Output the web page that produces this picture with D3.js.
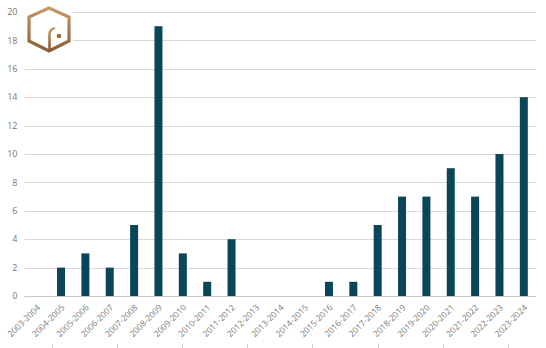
<!DOCTYPE html>
<html>
<head>
<meta charset="utf-8">
<script src="https://cdn.jsdelivr.net/npm/d3@7/dist/d3.min.js"></script>
<style>
  body { margin: 0; background: #fff; }
  text { font-family: "Open Sans", "Noto Sans", sans-serif; fill: #777; }
</style>
</head>
<body>
<div id="chart"></div>
<script>
var seasons = ["2003-2004", "2004-2005", "2005-2006", "2006-2007", "2007-2008", "2008-2009",
  "2009-2010", "2010-2011", "2011-2012", "2012-2013", "2013-2014", "2014-2015", "2015-2016",
  "2016-2017", "2017-2018", "2018-2019", "2019-2020", "2020-2021", "2021-2022", "2022-2023", "2023-2024"];
var counts = [0, 2, 3, 2, 5, 19, 3, 1, 4, 0, 0, 0, 1, 1, 5, 7, 7, 9, 7, 10, 14];
var yTicks = [0, 2, 4, 6, 8, 10, 12, 14, 16, 18, 20];

var svgWidth = 546;
var svgHeight = 348;
var margin = { top: 12, right: 10, bottom: 52, left: 24.5 };
var width = svgWidth - margin.left - margin.right;
var height = svgHeight - margin.top - margin.bottom;

var svg = d3.select("#chart").append("svg")
  .attr("width", svgWidth)
  .attr("height", svgHeight);

var chartGroup = svg.append("g")
  .attr("transform", `translate(${margin.left}, ${margin.top})`);

var xScale = d3.scaleBand()
  .domain(seasons)
  .range([0, width]);

var yScale = d3.scaleLinear()
  .domain([0, 20])
  .range([height, 0]);

// gridlines
chartGroup.selectAll(".grid")
  .data(yTicks.filter(d => d > 0))
  .enter()
  .append("line")
  .attr("x1", 0)
  .attr("x2", width)
  .attr("y1", d => Math.round(yScale(d)) + 0.5)
  .attr("y2", d => Math.round(yScale(d)) + 0.5)
  .attr("stroke", "#d9d9d9")
  .attr("stroke-width", 1);

// y labels
chartGroup.selectAll(".ylab")
  .data(yTicks)
  .enter()
  .append("text")
  .attr("x", -7)
  .attr("y", d => yScale(d))
  .attr("dy", "0.35em")
  .attr("text-anchor", "end")
  .style("font-size", "9px")
  .text(d => d);

// bars
var barW = 8;
chartGroup.selectAll(".bar")
  .data(counts)
  .enter()
  .append("rect")
  .attr("x", (d, i) => xScale(seasons[i]) + xScale.bandwidth() / 2 - barW / 2)
  .attr("y", d => yScale(d))
  .attr("width", barW)
  .attr("height", d => yScale(0) - yScale(d))
  .attr("fill", "#0b4658");

// baseline
chartGroup.append("line")
  .attr("x1", 0)
  .attr("x2", width)
  .attr("y1", Math.round(yScale(0)) + 0.5)
  .attr("y2", Math.round(yScale(0)) + 0.5)
  .attr("stroke", "#c8c8c8");

// x labels, rotated
chartGroup.selectAll(".xlab")
  .data(seasons)
  .enter()
  .append("text")
  .attr("transform", d => `translate(${xScale(d) + xScale.bandwidth() / 2 + 2}, ${height + 10}) rotate(-45)`)
  .attr("text-anchor", "end")
  .attr("dy", "0.35em")
  .style("font-size", "8.5px")
  .text(d => d);

// faint ticks at the bottom edge
var bottomTicks = d3.range(8).map(i => 52 + i * 65.1);
svg.selectAll(".btick")
  .data(bottomTicks)
  .enter()
  .append("line")
  .attr("x1", d => Math.round(d) + 0.5)
  .attr("x2", d => Math.round(d) + 0.5)
  .attr("y1", 344)
  .attr("y2", 348)
  .attr("stroke", "#cfcfcf");

// logo
var defs = svg.append("defs");
var grad = defs.append("linearGradient")
  .attr("id", "bronze")
  .attr("x1", "0").attr("y1", "0").attr("x2", "0").attr("y2", "1");
grad.append("stop").attr("offset", "0%").attr("stop-color", "#c99a66");
grad.append("stop").attr("offset", "100%").attr("stop-color", "#8c5c34");

var logo = svg.append("g");
logo.append("rect")
  .attr("x", 25).attr("y", 4).attr("width", 48).attr("height", 51)
  .attr("fill", "#fff");
logo.append("path")
  .attr("d", "M49,8 L69,17 L69,41 L49,51 L29,41 L29,17 Z")
  .attr("fill", "none")
  .attr("stroke", "url(#bronze)")
  .attr("stroke-width", 3.2)
  .attr("stroke-linejoin", "miter");
logo.append("path")
  .attr("d", "M49.5,50 L49.5,34 Q50,29 55,28")
  .attr("fill", "none")
  .attr("stroke", "url(#bronze)")
  .attr("stroke-width", 2.6);
logo.append("circle")
  .attr("cx", 59).attr("cy", 36).attr("r", 2.3)
  .attr("fill", "#9a6a3e");
</script>
</body>
</html>
